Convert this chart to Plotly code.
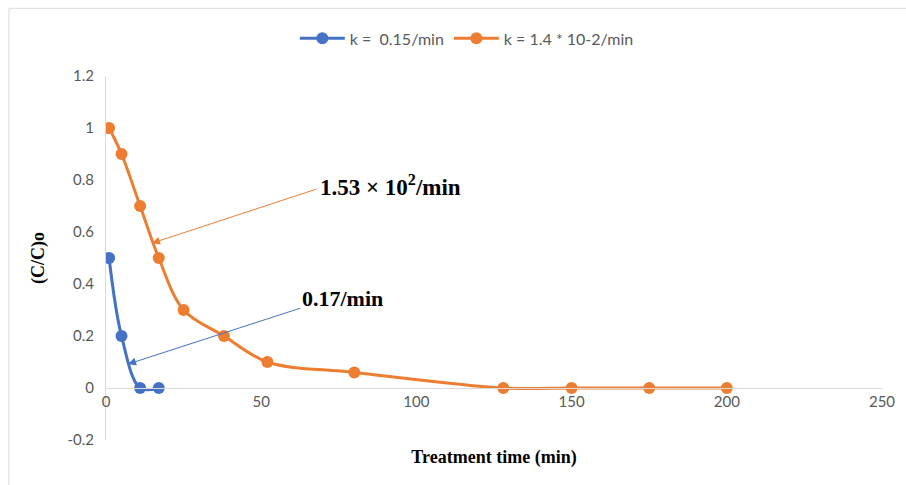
import plotly.graph_objects as go

blue_x = [1, 5, 11, 17]
blue_y = [0.5, 0.2, 0.0, 0.0]
orange_x = [1, 5, 11, 17, 25, 38, 52, 80, 128, 150, 175, 200]
orange_y = [1.0, 0.9, 0.7, 0.5, 0.3, 0.2, 0.1, 0.06, 0.0, 0.0, 0.0, 0.0]
blue_name = "k =  0.15/min"
orange_name = "k = 1.4 * 10-2/min"
x_ticks = [0, 50, 100, 150, 200, 250]
y_ticks = [-0.2, 0, 0.2, 0.4, 0.6, 0.8, 1, 1.2]
y_tick_text = ["-0.2", "0", "0.2", "0.4", "0.6", "0.8", "1", "1.2"]

BLUE = "#4472C4"
ORANGE = "#ED7D31"
GRAY = "#595959"
AXIS = "#d9d9d9"

fig = go.Figure()
fig.add_trace(go.Scatter(x=blue_x, y=blue_y, name=blue_name, mode="lines+markers",
                         line=dict(color=BLUE, width=3, shape="spline", smoothing=1),
                         marker=dict(color=BLUE, size=12)))
fig.add_trace(go.Scatter(x=orange_x, y=orange_y, name=orange_name, mode="lines+markers",
                         line=dict(color=ORANGE, width=3, shape="spline", smoothing=1),
                         marker=dict(color=ORANGE, size=12)))

serif_bold = dict(family="Liberation Serif", color="black")

# arrows
fig.add_annotation(x=14.8, y=0.557, ax=68.3, ay=0.767, xref="x", yref="y", axref="x", ayref="y",
                   text="", showarrow=True, arrowhead=2, arrowsize=1.6, arrowwidth=1, arrowcolor=ORANGE)
fig.add_annotation(x=7.1, y=0.092, ax=63.1, ay=0.309, xref="x", yref="y", axref="x", ayref="y",
                   text="", showarrow=True, arrowhead=2, arrowsize=1.6, arrowwidth=1, arrowcolor=BLUE)
fig.add_annotation(x=68.3, y=0.78, xref="x", yref="y", xanchor="left", yanchor="middle",
                   text="<b>1.53 × 10<sup>2</sup>/min</b>",
                   showarrow=False, font=dict(size=23, **serif_bold))
fig.add_annotation(x=62.5, y=0.345, xref="x", yref="y", xanchor="left", yanchor="middle",
                   text="<b>0.17/min</b>", showarrow=False,
                   font=dict(size=22, **serif_bold))

# chart border
fig.add_shape(type="rect", xref="paper", yref="paper", x0=-0.125, x1=1.1, y0=-0.2, y1=1.186,
              line=dict(color=AXIS, width=1), fillcolor="rgba(0,0,0,0)", layer="below")

fig.update_layout(
    width=906, height=485,
    margin=dict(l=106, r=24, t=76, b=45),
    paper_bgcolor="white", plot_bgcolor="white",
    font=dict(family="Lato", color=GRAY, size=15),
    showlegend=True,
    legend=dict(orientation="h", x=0.465, xanchor="center", y=1.15, yanchor="top",
                font=dict(size=16, color=GRAY), itemwidth=45, tracegroupgap=20),
    xaxis=dict(range=[0, 250], tickvals=x_ticks, showgrid=False, zeroline=False,
               showline=True, linecolor=AXIS, linewidth=1, ticks="",
               anchor="free", position=0.2 / 1.4,
               tickfont=dict(size=15, color=GRAY),
               title=dict(text="<b>Treatment time (min)</b>", standoff=41,
                          font=dict(family="Liberation Serif", size=18, color="black"))),
    yaxis=dict(range=[-0.2, 1.2], tickvals=y_ticks, ticktext=y_tick_text, showgrid=False,
               zeroline=False, showline=True, linecolor=AXIS, linewidth=1, ticks="",
               tickfont=dict(size=15, color=GRAY), ticklabelstandoff=8,
               title=dict(text="<b>(C/C)o</b>", standoff=18,
                          font=dict(family="Liberation Serif", size=18, color="black"))),
)

fig.write_html("out.html")
